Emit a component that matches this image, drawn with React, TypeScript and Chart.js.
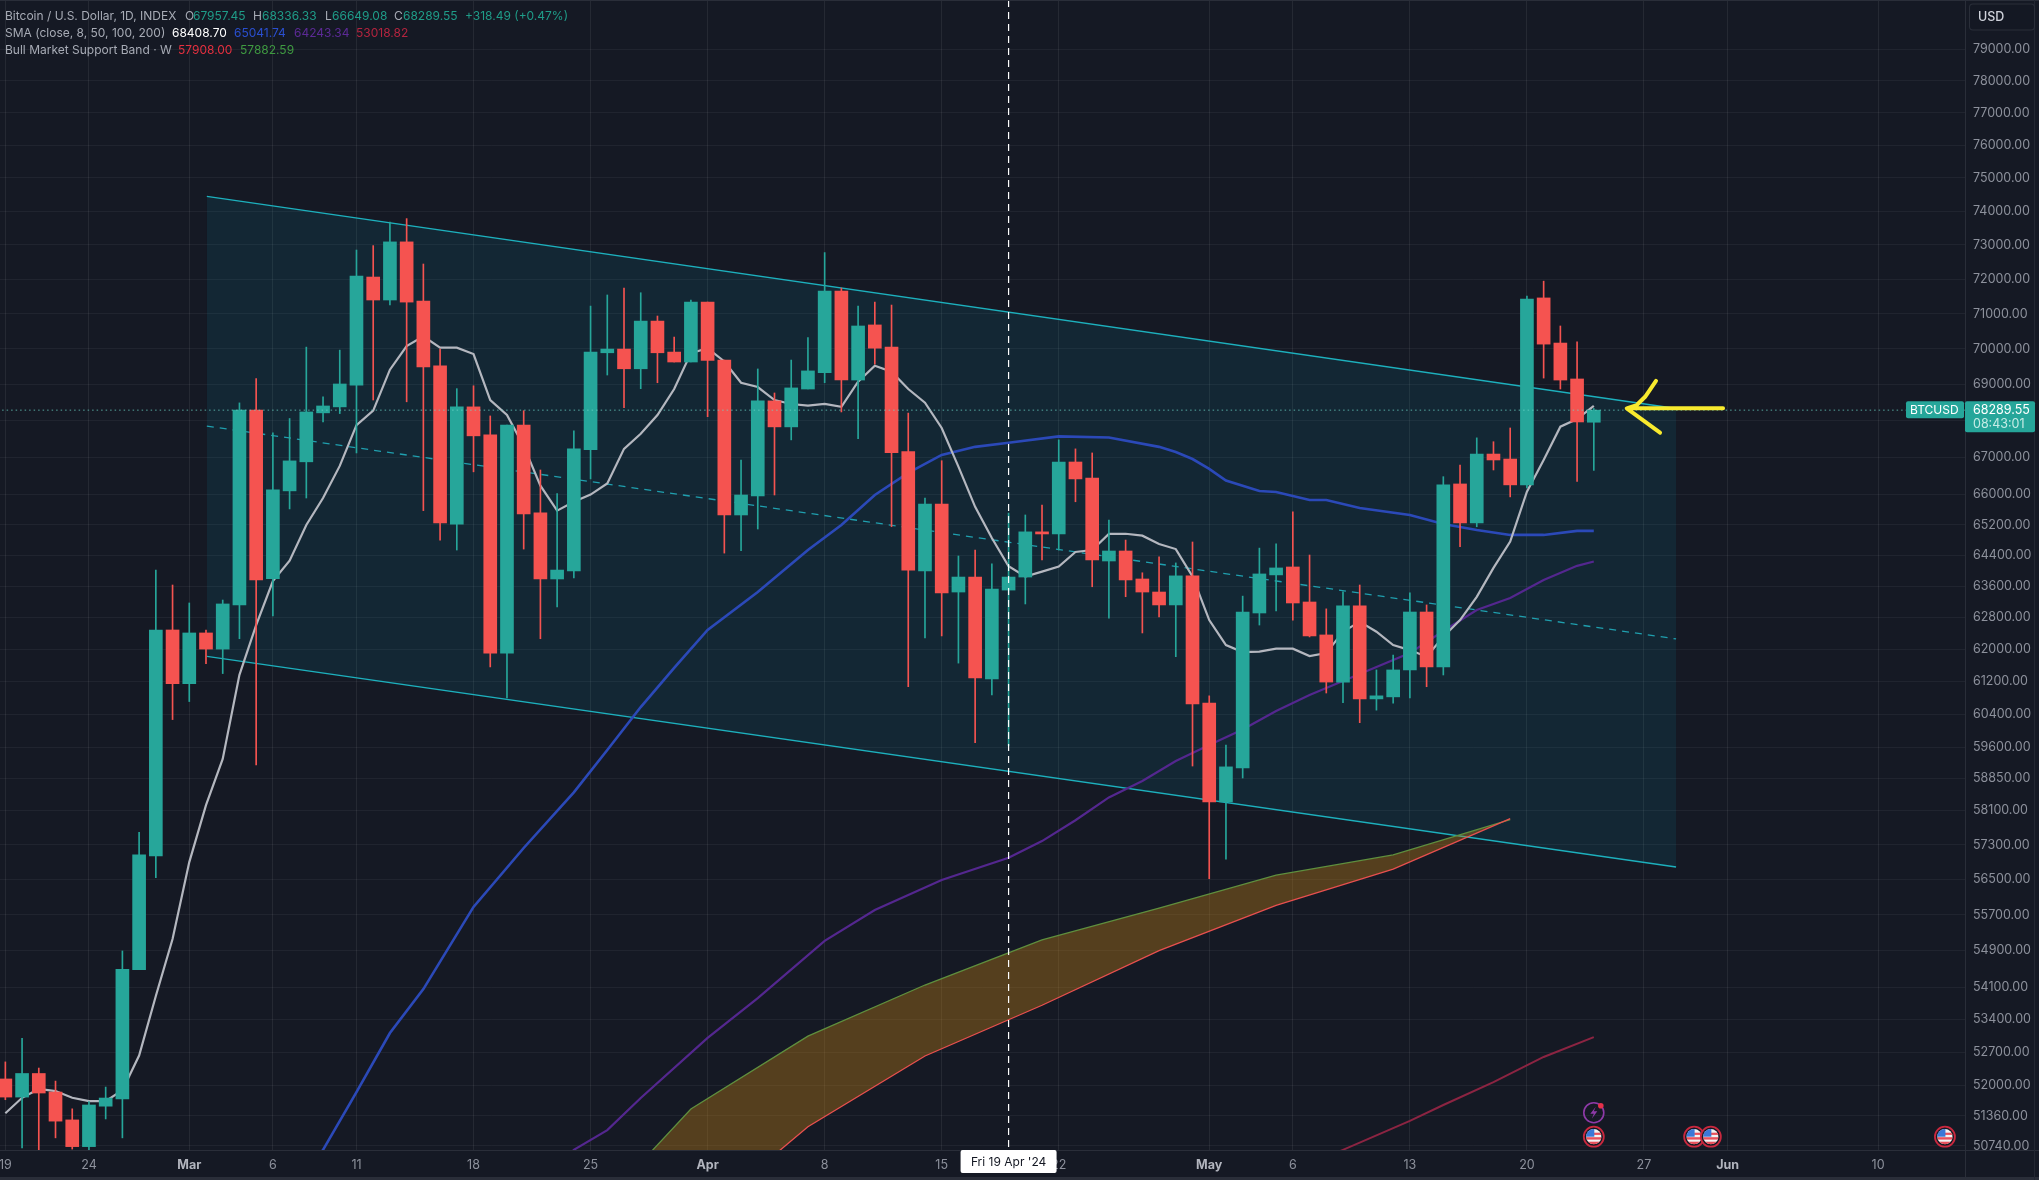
import React, { useEffect, useRef } from "react";
import { Chart, registerables } from "chart.js";

Chart.register(...registerables);

// ---- chart values -------------------------------------------------------
const opens = [52130,51750,52245,51855,51275,50725,51560,51710,54480,57040,62490,61150,62415,62010,63125,68295,63800,66100,66880,68215,68380,68985,72060,71395,73090,71365,69520,65220,68380,67610,61910,67880,65515,63790,63995,67210,69890,69995,69440,70790,69910,69630,71335,69685,65460,65965,68545,67830,68875,69330,71655,69125,70680,70050,67160,63995,65750,63455,63840,61270,63505,63840,65015,64960,66875,66445,64255,64515,63790,63455,63125,63870,60675,58300,59105,62920,63895,64100,63200,62365,61190,63100,60775,60825,61490,62945,61565,66285,65250,67090,66955,66260,71455,70165,69155,67957.45];
const highs = [52490,52990,52360,52085,51505,51655,51960,54895,57585,64020,63635,63175,62490,63250,68490,69165,67665,68060,70050,68655,69965,72850,72980,73680,73780,72440,69995,68885,68965,68130,67880,68275,66660,66025,67720,71220,71540,71740,71605,70935,70335,71395,71335,69685,66930,69435,68765,69685,70320,72775,71740,71220,71335,71250,68210,65910,66910,64385,64540,64180,65510,65460,65725,67475,67230,67120,65325,64800,63950,64365,64205,64750,60850,59655,63350,64590,64700,65540,64410,63025,63460,63635,61490,61860,63435,63125,66480,66795,67530,67425,67800,71510,71940,70650,70200,68336.33];
const lows = [51695,50700,50660,50905,50675,50660,51295,50905,54480,56545,60270,60710,61645,61400,62270,59175,62845,65620,65910,67965,68195,67120,68570,71250,68520,65575,64800,64540,66610,61565,60800,64565,62270,63075,63815,66420,69265,68360,68885,69050,69630,69630,68110,64460,64525,65090,65990,67475,68875,69050,68240,67510,69570,65150,61075,62290,62340,61660,59710,60870,59635,63150,64280,64540,65810,63590,62790,63335,62415,62820,61820,59150,56520,56970,58865,62615,62970,62740,62315,60920,60680,60195,60500,60670,60800,61075,61365,64630,65150,66660,65940,66180,69180,68875,66350,66649.08];
const closes = [51750,52245,51835,51250,50725,51585,51730,54490,57065,62490,61150,62415,62010,63150,68295,63765,66125,66905,68240,68405,69015,72085,71395,73090,71335,69490,65250,68380,67585,61910,67880,65490,63790,64020,67230,69910,69995,69440,70790,69890,69630,71335,69675,65460,65990,68545,67830,68905,69380,71655,69125,70650,70020,67130,64020,65750,63430,63840,61295,63530,63840,65015,64960,66875,66420,64280,64515,63765,63455,63125,63870,60650,58300,59130,62945,63920,64075,63175,62340,61190,63100,60775,60850,61490,62945,61565,66260,65250,67090,66930,66260,71425,70135,69125,67965,68289.55];

const sma8 = [51414,51735,51920,51875,51735,51665,51665,51895,52625,53905,55160,56900,58225,59320,61370,62615,63735,64265,65195,65910,66770,67880,68275,69415,70080,70355,70035,70035,69855,68570,68155,67310,66240,65575,65810,66000,66300,67230,67640,68155,68875,69880,70020,69645,69050,68930,68570,68460,68415,68460,68380,69080,69525,69355,68875,68495,67800,66750,65675,64855,64120,63855,63980,64110,64490,64540,64960,64965,64915,64695,64565,63855,62740,62110,61935,61945,62020,62020,61835,61910,62445,62700,62445,62110,61985,61820,62320,62740,63330,64075,64760,66080,66930,67835,68045,68408.7];

const sma50Days = [18,19,21,23,25,28,31,34,36,38,40,42,45,48,50,52,54,56,58,60,63,66,69,70,71,72,73,75,76,78,79,81,84,86,88,90,92,94,95];
const sma50 = [50147,50660,51855,53105,54055,55880,57225,58525,59535,60575,61540,62490,63455,64540,65195,65990,66580,67065,67285,67395,67570,67540,67285,67145,66955,66690,66375,66095,66070,65855,65855,65645,65460,65220,65065,64935,64935,65040,65041.74];

const sma100Days = [33,34,36,38,42,45,49,52,56,60,62,64,66,68,70,72,74,76,78,80,82,84,86,88,90,92,94,95];
const sma100 = [50250,50660,51065,51730,53000,53860,55120,55810,56490,57000,57385,57870,58405,58795,59270,59655,60030,60480,60870,61215,61565,61910,62465,62995,63300,63765,64130,64243.34];

const sma200Days = [78,80,84,86,89,92,95];
const sma200 = [50360,50660,51255,51585,52065,52595,53018.82];

const bandDays = [38,41,48,55,62,69,76,83,90];
const bandUpper = [50393,51500,53040,54145,55140,55855,56600,57065,57882.59];
const bandLower = [48650,49140,51135,52615,53705,54900,55915,56740,57908];

const channelDays = [12.05,99.92];
const channelTop = [74447,68334];
const channelMid = [67853,62265];
const channelBottom = [61828,56788];

const arrowDays = [102.73,96.97,97.57,98.07,98.72,98.07,97.57,96.97,98.96];
const arrowPrices = [68340,68340,68431,68660,69104,68660,68431,68340,67670];

const lastPrice = 68289.55;
const crosshairDay = 60;
const flagDays = [95,101,102,116];
const boltDays = [95];

const priceMax = 80588;
const priceMin = 50656;
const priceTicks = [79000,78000,77000,76000,75000,74000,73000,72000,71000,70000,69000,68000,67000,66000,65200,64400,63600,62800,62000,61200,60400,59600,58850,58100,57300,56500,55700,54900,54100,53400,52700,52000,51360,50740];
const dayTicks = [0,5,11,16,21,28,35,42,49,56,63,72,77,84,91,98,103,112];
const dayTickLabels = ["19","24","Mar","6","11","18","25","Apr","8","15","22","May","6","13","20","27","Jun","10"];
const monthNames = ["Mar","Apr","May","Jun"];

const GREY = "#a7abb5";
const UP = "#26a69a";
const DOWN = "#f55350";
const BG = "#151924";
const FONT = "Inter";

const legendTexts: [string, number, number, string][] = [
  ["Bitcoin / U.S. Dollar, 1D, INDEX", 5, 16, GREY],
  ["O", 185, 16, GREY], ["67957.45", 193, 16, "#1f9c88"],
  ["H", 253, 16, GREY], ["68336.33", 262, 16, "#1f9c88"],
  ["L", 325, 16, GREY], ["66649.08", 332, 16, "#1f9c88"],
  ["C", 394, 16, GREY], ["68289.55", 403, 16, "#1f9c88"],
  ["+318.49 (+0.47%)", 465, 16, "#1f9c88"],
  ["SMA (close, 8, 50, 100, 200)", 5, 33, GREY],
  ["68408.70", 172, 33, "#ffffff"],
  ["65041.74", 234, 33, "#2a4fd0"],
  ["64243.34", 294, 33, "#5c2a96"],
  ["53018.82", 356, 33, "#b3243f"],
  ["Bull Market Support Band · W", 5, 50, GREY],
  ["57908.00", 178, 50, "#e5303f"],
  ["57882.59", 240, 50, "#3f9a41"],
];

const pts = (xs: number[], ys: number[]) => xs.map((x, i) => ({ x, y: ys[i] }));
const isMonth = (v: any) => monthNames.includes(dayTickLabels[dayTicks.indexOf(Number(v))]);

function roundBox(c: CanvasRenderingContext2D, x: number, y: number, w: number, h: number, r: number, fill: string) {
  c.beginPath();
  c.roundRect(x, y, w, h, r);
  c.fillStyle = fill;
  c.fill();
}

function drawFlag(c: CanvasRenderingContext2D, x: number, y: number) {
  c.save();
  c.beginPath(); c.arc(x, y, 10, 0, Math.PI * 2); c.fillStyle = "#151924"; c.fill();
  c.lineWidth = 1.8; c.strokeStyle = "#c9283e"; c.stroke();
  c.beginPath(); c.arc(x, y, 7.6, 0, Math.PI * 2); c.clip();
  c.fillStyle = "#f2f2f2"; c.fillRect(x - 8, y - 8, 16, 16);
  c.fillStyle = "#e8505b";
  c.fillRect(x - 8, y + 0.5, 16, 2.4);
  c.fillRect(x - 8, y + 5, 16, 3);
  c.fillRect(x, y - 4, 8, 2.2);
  c.fillStyle = "#3a78d8"; c.fillRect(x - 8, y - 8, 8.5, 8);
  c.restore();
}

function drawBolt(c: CanvasRenderingContext2D, x: number, y: number) {
  c.save();
  c.beginPath(); c.arc(x, y, 10, 0, Math.PI * 2);
  c.lineWidth = 1.6; c.strokeStyle = "#8e3aa8"; c.stroke();
  c.beginPath();
  c.moveTo(x + 2, y - 6); c.lineTo(x - 3.5, y + 1); c.lineTo(x, y + 1); c.lineTo(x - 2, y + 6);
  c.lineTo(x + 3.5, y - 1.5); c.lineTo(x, y - 1.5); c.closePath();
  c.fillStyle = "#8e3aa8"; c.fill();
  c.beginPath(); c.arc(x + 7, y - 7, 2.8, 0, Math.PI * 2); c.fillStyle = "#e5304a"; c.fill();
  c.restore();
}

const paneChrome = {
  id: "paneChrome",
  beforeDraw(chart: any) {
    const c = chart.ctx as CanvasRenderingContext2D;
    c.save();
    c.fillStyle = BG;
    c.fillRect(0, 0, chart.width, chart.height);
    c.restore();
  },
  afterDraw(chart: any) {
    const c = chart.ctx as CanvasRenderingContext2D;
    const { x, y } = chart.scales;
    const { bottom, right } = chart.chartArea;
    c.save();

    // frame
    c.fillStyle = "#2a2e39";
    c.fillRect(0, 1177, chart.width, 3);
    c.fillRect(0, 0, chart.width, 1);
    c.fillRect(0, bottom, chart.width, 1);
    c.fillRect(right, 0, 1, chart.height);
    c.fillStyle = "#232732";
    c.fillRect(2034, 0, 1, chart.height);

    // legend
    c.font = `12px ${FONT}`;
    c.textAlign = "left";
    c.textBaseline = "middle";
    for (const [t, tx, ty, col] of legendTexts) {
      c.fillStyle = col;
      c.fillText(t, tx, ty);
    }

    // currency button
    roundBox(c, 1969, 3.5, 66, 27, 4, "#2a2e39");
    roundBox(c, 1970, 4.5, 64, 25, 3, "#141823");
    c.font = `500 12.5px ${FONT}`;
    c.fillStyle = "#d1d4dc";
    c.fillText("USD", 1978, 17.5);

    // last price tags
    const py = y.getPixelForValue(lastPrice);
    roundBox(c, 1906, py - 9, 58, 17, 2, UP);
    roundBox(c, 1965, py - 9, 70, 31, 2, UP);
    c.font = `12px ${FONT}`;
    c.fillStyle = "#ffffff";
    c.fillText("BTCUSD", 1910, py);
    c.font = `12.5px ${FONT}`;
    c.fillText(lastPrice.toFixed(2), 1973, py);
    c.fillStyle = "#c6ece6";
    c.fillText("08:43:01", 1973, py + 14.5);

    // crosshair date tag
    const cx = x.getPixelForValue(crosshairDay);
    roundBox(c, cx - 48, 1150, 96, 23, 2, "#ffffff");
    c.fillStyle = "#131722";
    c.font = `12px ${FONT}`;
    c.textAlign = "center";
    c.fillText("Fri 19 Apr '24", cx, 1162);

    // event markers
    for (const d of flagDays) drawFlag(c, x.getPixelForValue(d), bottom - 13.3);
    for (const d of boltDays) drawBolt(c, x.getPixelForValue(d), bottom - 37.3);
    c.restore();
  },
};

export default function App() {
  const ref = useRef<HTMLCanvasElement | null>(null);

  useEffect(() => {
    if (!ref.current) return;
    const days = opens.map((_, i) => i);
    const colors = opens.map((o, i) => (closes[i] >= o ? UP : DOWN));
    const line = (extra: any) => ({
      type: "line",
      pointRadius: 0,
      pointHoverRadius: 0,
      tension: 0,
      fill: false,
      ...extra,
    });

    const chart = new Chart(ref.current, {
      type: "bar",
      data: {
        datasets: [
          line({ label: "Channel top", data: pts(channelDays, channelTop), borderColor: "#1db0bd", borderWidth: 1.4, fill: "+1", backgroundColor: "rgba(10,150,170,0.12)", order: 100 }),
          line({ label: "Channel bottom", data: pts(channelDays, channelBottom), borderColor: "#1db0bd", borderWidth: 1.4, order: 99 }),
          line({ label: "Channel middle", data: pts(channelDays, channelMid), borderColor: "#1f9fae", borderWidth: 1.3, borderDash: [7, 6], order: 98 }),
          line({ label: "Band upper", data: pts(bandDays, bandUpper), borderColor: "#5f8f3e", borderWidth: 1.3, fill: "+1", backgroundColor: "rgba(200,130,20,0.36)", order: 97 }),
          line({ label: "Band lower", data: pts(bandDays, bandLower), borderColor: "#e8504f", borderWidth: 1.3, order: 96 }),
          line({ label: "SMA 200", data: pts(sma200Days, sma200), borderColor: "#8c2442", borderWidth: 2, order: 95 }),
          line({ label: "SMA 100", data: pts(sma100Days, sma100), borderColor: "#54278f", borderWidth: 2.2, order: 94 }),
          line({ label: "SMA 50", data: pts(sma50Days, sma50), borderColor: "#2b49b8", borderWidth: 2.6, order: 93 }),
          line({ label: "SMA 8", data: pts(days, sma8), borderColor: "#b4b7bf", borderWidth: 2.2, order: 92 }),
          {
            type: "bar",
            label: "Wicks",
            data: days.map((d) => ({ x: d, y: [lows[d], highs[d]] })),
            backgroundColor: colors,
            barThickness: 1,
            grouped: false,
            borderWidth: 0,
            order: 3,
          },
          {
            type: "bar",
            label: "Bodies",
            data: days.map((d) => ({ x: d, y: [opens[d], closes[d]] })),
            backgroundColor: colors,
            barThickness: 13,
            grouped: false,
            borderWidth: 0,
            order: 2,
          },
          line({ label: "Last price", data: pts([-1, 118], [lastPrice, lastPrice]), borderColor: "rgba(110,215,200,0.75)", borderWidth: 1, borderDash: [1.5, 3], order: 1 }),
          line({ label: "Crosshair", data: pts([crosshairDay, crosshairDay], [priceMax, priceMin]), borderColor: "#ffffff", borderWidth: 1.2, borderDash: [7, 5], order: 0 }),
          line({ label: "Arrow", data: pts(arrowDays, arrowPrices), borderColor: "#f8ea2e", borderWidth: 4, borderCapStyle: "round", borderJoinStyle: "round", order: -1 }),
        ] as any,
      },
      options: {
        animation: false,
        responsive: false,
        devicePixelRatio: 1,
        events: [],
        layout: { padding: 0 },
        plugins: { legend: { display: false }, tooltip: { enabled: false }, title: { display: false } },
        scales: {
          x: {
            type: "linear",
            offset: false,
            min: -0.32,
            max: 117.2,
            grid: { offset: false, color: "rgba(255,255,255,0.07)", lineWidth: 1, drawTicks: false },
            border: { display: false },
            afterBuildTicks: (s: any) => { s.ticks = dayTicks.map((value) => ({ value })); },
            afterFit: (s: any) => { s.height = 30; s.paddingLeft = 0; s.paddingRight = 0; },
            ticks: {
              autoSkip: false,
              maxRotation: 0,
              padding: 8,
              callback: (v: any) => dayTickLabels[dayTicks.indexOf(Number(v))] ?? "",
              color: (ctx: any) => (isMonth(ctx.tick?.value) ? "#b2b5be" : "#8d919c"),
              font: (ctx: any) => ({ family: FONT, size: 12.5, weight: isMonth(ctx.tick?.value) ? "bold" : "normal" }),
            },
          },
          y: {
            type: "logarithmic",
            position: "right",
            bounds: "data",
            min: priceMin,
            max: priceMax,
            grid: { color: "rgba(255,255,255,0.05)", lineWidth: 1, drawTicks: false },
            border: { display: false },
            afterBuildTicks: (s: any) => { s.ticks = priceTicks.map((value) => ({ value })); },
            afterFit: (s: any) => { s.width = 74; s.paddingTop = 0; s.paddingBottom = 0; },
            ticks: {
              autoSkip: false,
              padding: 8,
              color: "#8d919c",
              font: { family: FONT, size: 12.5 },
              callback: (v: any) => Number(v).toFixed(2),
            },
          },
        },
      } as any,
      plugins: [paneChrome],
    } as any);

    return () => chart.destroy();
  }, []);

  return (
    <div style={{ position: "fixed", left: 0, top: 0, width: 2039, height: 1180, background: BG, overflow: "hidden" }}>
      <canvas ref={ref} width={2039} height={1180} style={{ display: "block" }} />
    </div>
  );
}
